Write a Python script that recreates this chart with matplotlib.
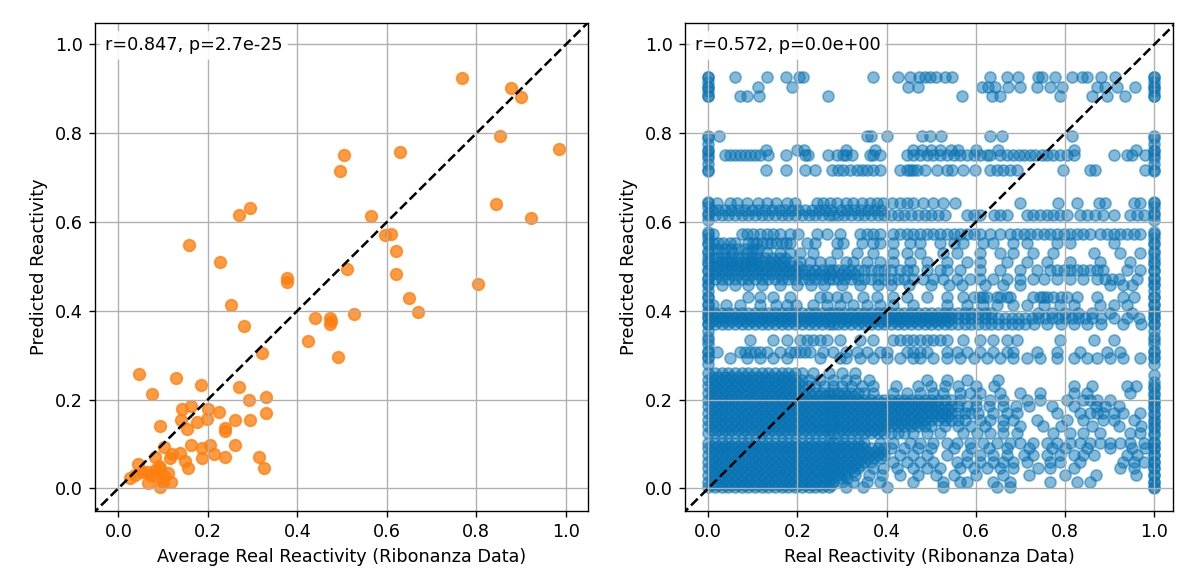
import matplotlib
matplotlib.use("Agg")
import matplotlib.pyplot as plt

plt.rcParams['font.size'] = 10.3

# ---------------- Left panel data (average real vs predicted) ----------------
left_x = [0.768, 0.878, 0.899, 0.852, 0.984, 0.505, 0.496, 0.629, 0.295, 0.269,
          0.844, 0.921, 0.565, 0.597, 0.610, 0.620, 0.620, 0.158, 0.227, 0.512,
          0.377, 0.377, 0.804, 0.649, 0.669, 0.252, 0.440, 0.474, 0.476, 0.473,
          0.527, 0.280, 0.424, 0.490, 0.321, 0.046, 0.130, 0.184, 0.075, 0.269,
          0.292, 0.330, 0.330, 0.142, 0.162, 0.200, 0.225, 0.140, 0.175, 0.198,
          0.260, 0.295, 0.093, 0.154, 0.238, 0.238, 0.162, 0.187, 0.205, 0.102,
          0.260, 0.137, 0.119, 0.213, 0.081, 0.116, 0.187, 0.238, 0.315, 0.148,
          0.043, 0.156, 0.326, 0.091, 0.065, 0.083, 0.094, 0.112, 0.026, 0.037,
          0.052, 0.074, 0.067, 0.093, 0.100, 0.117, 0.085, 0.103]
left_y = [0.924, 0.901, 0.881, 0.793, 0.764, 0.750, 0.715, 0.758, 0.632, 0.615,
          0.641, 0.610, 0.613, 0.570, 0.572, 0.535, 0.483, 0.549, 0.509, 0.495,
          0.475, 0.465, 0.460, 0.429, 0.398, 0.412, 0.383, 0.383, 0.378, 0.370,
          0.392, 0.366, 0.332, 0.295, 0.306, 0.257, 0.248, 0.232, 0.212, 0.229,
          0.199, 0.206, 0.169, 0.178, 0.185, 0.178, 0.171, 0.154, 0.149, 0.156,
          0.154, 0.154, 0.140, 0.134, 0.135, 0.129, 0.098, 0.090, 0.098, 0.094,
          0.098, 0.080, 0.077, 0.077, 0.071, 0.069, 0.069, 0.071, 0.071, 0.062,
          0.055, 0.045, 0.045, 0.051, 0.037, 0.041, 0.045, 0.034, 0.023, 0.030,
          0.037, 0.030, 0.011, 0.004, 0.015, 0.015, 0.027, 0.027]
left_text = "r=0.847, p=2.7e-25"

# ---------------- Right panel data (per-nucleotide real vs predicted) --------
# dense runs of real-reactivity values read from the solid blobs
run_a = [0.0, 0.015, 0.03, 0.045, 0.06, 0.075, 0.09, 0.105, 0.12, 0.135,
         0.15, 0.165, 0.18, 0.195, 0.21, 0.225, 0.24, 0.255, 0.27, 0.28]
run_b = [0.29, 0.305, 0.32, 0.335, 0.35, 0.365, 0.38, 0.395]
run_c = [0.41, 0.425, 0.44, 0.455, 0.47, 0.485, 0.5, 0.515, 0.53, 0.545]
run_d = [0.56, 0.575, 0.59, 0.605, 0.62, 0.635, 0.65, 0.665, 0.68, 0.695, 0.71]
# second, staggered set of values inside the same blobs
run_a2 = [0.008, 0.022, 0.038, 0.052, 0.068, 0.082, 0.098, 0.112, 0.128, 0.142,
          0.158, 0.172, 0.188, 0.202, 0.218, 0.232, 0.248, 0.262, 0.275]
run_b2 = [0.298, 0.312, 0.328, 0.342, 0.358, 0.372, 0.388]
run_c2 = [0.402, 0.418, 0.432, 0.448, 0.462, 0.478, 0.492, 0.508, 0.522, 0.538]

x_0926 = [0.0, 0.06, 0.132, 0.174, 0.204, 0.213, 0.37, 0.426, 0.453, 0.473, 0.486,
          0.497, 0.51, 0.531, 0.546, 0.632, 0.669, 0.695, 0.74, 0.748, 0.778,
          0.815, 0.838, 0.849, 0.88, 0.912, 1.0]
x_0905 = [0.0, 0.112, 0.187, 0.449, 0.471, 0.613, 0.628, 0.643, 0.673, 0.699,
          0.737, 0.767, 0.793, 0.871, 0.89, 0.916, 0.957, 1.0]
x_0884 = [0.0, 0.071, 0.086, 0.114, 0.269, 0.568, 0.636, 0.654, 0.789, 0.86,
          0.894, 0.935, 1.0]
x_0793 = [0.0, 0.025, 0.355, 0.366, 0.402, 0.479, 0.497, 0.523, 0.632, 0.658,
          0.815, 1.0]
x_0762 = [0.0, 0.13, 0.2, 0.215, 0.31, 0.375, 0.46, 0.48, 0.5, 0.52, 0.545,
          0.56, 0.6, 0.65, 0.82, 0.96, 1.0]
x_0751 = [0.0, 0.037, 0.049, 0.06, 0.071, 0.082, 0.093, 0.105, 0.116, 0.135,
          0.174, 0.217, 0.224, 0.269, 0.288, 0.303, 0.31, 0.322, 0.363, 0.37,
          0.385, 0.445, 0.46, 0.475, 0.49, 0.505, 0.52, 0.535, 0.55, 0.565, 0.58,
          0.595, 0.61, 0.625, 0.632, 0.654, 0.669, 0.684, 0.696, 0.707, 0.722,
          0.733, 0.748, 0.759, 0.774, 0.789, 0.804, 0.819, 0.909, 0.939, 0.95,
          0.98, 1.0]
x_0717 = [0.0, 0.129, 0.174, 0.217, 0.239, 0.277, 0.292, 0.303, 0.318, 0.333,
          0.344, 0.355, 0.37, 0.385, 0.43, 0.445, 0.452, 0.46, 0.468, 0.486,
          0.512, 0.535, 0.546, 0.572, 0.598, 0.632, 0.647, 0.662, 0.677, 0.692,
          0.795, 0.856, 0.868, 0.98, 1.0]
x_0642 = [0.0, 0.019, 0.049, 0.064, 0.086, 0.112, 0.131, 0.153, 0.176, 0.194,
          0.243, 0.258, 0.273, 0.288, 0.31, 0.325, 0.344, 0.363, 0.378, 0.393,
          0.411, 0.43, 0.445, 0.46, 0.482, 0.505, 0.527, 0.553, 0.699, 0.785,
          0.826, 0.875, 0.89, 0.954, 0.969, 1.0]
x_0615e = [0.58, 0.595, 0.61, 0.64, 0.654, 0.669, 0.714, 0.729, 0.744, 0.759,
           0.774, 0.789, 0.804, 0.834, 0.849, 0.868, 0.886, 0.909, 0.946, 0.961,
           0.976, 1.0]
x_0574 = [0.0, 0.011, 0.075, 0.086, 0.101, 0.116, 0.131, 0.146, 0.161, 0.183,
          0.202, 0.243, 0.266, 0.295, 0.34, 0.355, 0.37, 0.385, 0.415, 0.43,
          0.445, 0.46, 0.475, 0.49, 0.505, 0.52, 0.535, 0.55, 0.565, 0.58, 0.595,
          0.61, 0.632, 0.654, 0.677, 0.692, 0.707, 0.722, 0.737, 0.752, 0.767,
          0.782, 0.797, 0.812, 0.826, 0.841, 0.856, 0.879, 0.894, 0.909, 0.924,
          0.939, 0.954, 0.969, 1.0]
x_0552 = [0.0, 0.011, 0.022, 0.034, 0.049, 0.06, 0.09, 0.1, 0.108, 0.12, 0.131,
          0.14, 0.153, 0.165, 0.175, 0.183, 0.221, 0.239, 0.288, 0.303, 0.344,
          0.37, 0.385, 0.415, 0.453, 0.475, 0.52, 0.55, 0.572, 0.617, 0.639,
          0.684, 0.714, 0.782, 0.812, 0.909, 1.0]
x_0530 = [0.0, 0.034, 0.056, 0.086, 0.108, 0.131, 0.161, 0.183, 0.206, 0.236,
          0.288, 0.333, 0.37, 0.415, 0.445, 0.475, 0.527, 0.557, 0.61, 0.654,
          0.684, 0.729, 0.774, 0.864, 0.924, 0.969, 1.0]
x_0510 = [0.0, 0.019, 0.03, 0.041, 0.052, 0.064, 0.075, 0.086, 0.097, 0.108,
          0.123, 0.138, 0.153, 0.168, 0.183, 0.206, 0.228, 0.251, 0.273, 0.31,
          0.325, 0.355, 0.385, 0.415, 0.453, 0.49, 0.535, 0.58, 0.61, 0.669,
          0.714, 0.759, 0.812, 0.879, 0.946, 1.0]
x_0492e = [0.41, 0.43, 0.445, 0.46, 0.49, 0.52, 0.535, 0.565, 0.61, 0.654, 0.699,
           0.737, 0.767, 0.782, 0.797, 0.812, 0.826, 0.841, 0.856, 0.871, 0.886,
           0.939, 0.969, 1.0]
x_0470e = [0.41, 0.425, 0.44, 0.46, 0.482, 0.505, 0.527, 0.557, 0.587, 0.61,
           0.639, 0.669, 0.699, 0.729, 0.752, 0.782, 0.812, 0.841, 0.871, 0.89,
           0.905, 0.92, 0.961, 1.0]
x_0458 = [0.0, 0.03, 0.06, 0.09, 0.12, 0.16, 0.2, 0.23, 0.26, 0.3, 0.34, 0.38,
          0.41, 0.45, 0.5, 0.54, 0.57, 0.62, 0.66, 0.7, 0.9, 0.93, 0.95, 1.0]
x_0432 = [0.0, 0.09, 0.116, 0.146, 0.183, 0.251, 0.266, 0.288, 0.31, 0.348,
          0.378, 0.415, 0.445, 0.49, 0.535, 0.572, 0.595, 0.61, 0.617, 0.625,
          0.647, 0.655, 0.67, 0.677, 0.729, 0.744, 0.75, 0.76, 0.774, 0.79,
          0.804, 0.826, 0.871, 0.931, 0.954, 1.0]
x_0413 = [0.0, 0.011, 0.041, 0.071, 0.116, 0.153, 0.176, 0.198, 0.236, 0.266,
          0.295, 0.325, 0.355, 0.385, 0.415, 0.46, 0.535, 0.58, 0.617, 0.647,
          0.684, 0.714, 0.752, 0.789, 0.819, 0.879, 0.909, 0.939, 1.0]
x_0394e = [0.74, 0.77, 0.8, 0.83, 0.86, 0.9, 0.95, 1.0]
x_0383e = [0.725, 0.74, 0.755, 0.77, 0.785, 0.8, 0.815, 0.83, 0.845, 0.86, 0.88,
           0.91, 0.94, 0.965, 1.0]
x_0371e = [0.73, 0.76, 0.79, 0.82, 0.85, 0.88, 0.93, 0.97, 1.0]
x_0334 = [0.0, 0.093, 0.146, 0.176, 0.206, 0.221, 0.236, 0.251, 0.266, 0.295,
          0.34, 0.37, 0.415, 0.43, 0.445, 0.46, 0.475, 0.49, 0.505, 0.52, 0.535,
          0.572, 0.61, 0.639, 0.669, 0.692, 0.789, 0.864, 0.909, 1.0]
x_0308 = [0.0, 0.019, 0.071, 0.082, 0.093, 0.105, 0.116, 0.131, 0.161, 0.183,
          0.194, 0.206, 0.217, 0.228, 0.258, 0.28, 0.31, 0.333, 0.355, 0.385,
          0.4, 0.445, 0.46, 0.475, 0.49, 0.535, 0.557, 0.58, 0.61, 0.639, 0.669,
          0.684, 0.737, 0.782, 0.834, 0.894, 0.924, 1.0]
x_0293 = [0.0, 0.049, 0.086, 0.116, 0.146, 0.176, 0.251, 0.295, 0.31, 0.34,
          0.37, 0.4, 0.43, 0.46, 0.475, 0.505, 0.535, 0.565, 0.595, 0.625,
          0.654, 0.684, 0.714, 0.744, 0.782, 0.819, 0.849, 0.871, 0.901, 0.931,
          0.969, 1.0]
x_0260e = [0.21, 0.235, 0.27, 0.3, 0.33]
x_0245e = [0.21, 0.225, 0.25, 0.28, 0.31, 0.33, 0.36, 0.49, 0.535, 0.58, 0.65]
x_0230e = [0.225, 0.24, 0.26, 0.28, 0.3, 0.32, 0.345, 0.37, 0.42, 0.47, 0.5,
           0.53, 0.56, 0.6, 0.64, 0.82, 0.86, 0.94, 0.96, 1.0]
x_0215e = [0.37, 0.415, 0.445, 0.475, 0.505, 0.527, 0.565, 0.587, 0.61, 0.654,
           0.699, 0.744, 0.819, 0.849, 0.946, 1.0]
x_0200e = [0.565, 0.6, 0.632, 0.662, 0.714, 0.744, 0.804, 0.841, 0.856, 0.871,
           0.901, 1.0]
x_0185e = [0.56, 0.58, 0.6, 0.63, 0.66, 0.69, 0.72, 0.77, 0.82, 0.87, 0.89,
           0.92, 1.0]
x_0170e = [0.639, 0.669, 0.692, 0.782, 0.834, 0.856, 0.871, 0.886, 0.909, 0.931,
           0.969, 1.0]
x_0155e = [0.61, 0.632, 0.662, 0.684, 0.737, 0.804, 0.841, 0.886, 0.909, 0.954,
           1.0]
x_0140e = [0.5, 0.53, 0.56, 0.59, 0.62, 0.66, 0.7, 0.75, 0.79, 0.86, 0.92,
           0.97, 1.0]
x_0125e = [0.41, 0.425, 0.44, 0.46, 0.49, 0.52, 0.572, 0.602, 0.632, 0.662,
           0.692, 0.774, 0.812, 0.841, 0.879, 0.946, 0.969, 1.0]
x_0102e = [0.385, 0.415, 0.453, 0.475, 0.505, 0.535, 0.557, 0.587, 0.617, 0.647,
           0.677, 0.699, 0.729, 0.759, 0.782, 0.812, 0.834, 0.856, 0.879, 0.901,
           0.924, 0.946, 0.976, 1.0]
x_0090e = [0.41, 0.44, 0.47, 0.5, 0.55, 0.59, 0.63, 0.67, 0.72, 0.77, 0.8,
           0.85, 0.9, 0.95, 0.98, 1.0]
x_0075e = [0.43, 0.46, 0.49, 0.535, 0.58, 0.61, 0.639, 0.669, 0.707, 0.729,
           0.759, 0.789, 0.819, 0.841, 0.864, 0.939, 0.961, 1.0]
x_0060e = [0.415, 0.445, 0.475, 0.505, 0.557, 0.58, 0.61, 0.639, 0.662, 0.684,
           0.714, 0.767, 0.789, 0.834, 0.931, 0.954, 0.976, 1.0]
x_0045e = [0.37, 0.393, 0.423, 0.46, 0.49, 0.52, 0.565, 0.595, 0.625, 0.654,
           0.684, 0.74, 0.767, 0.819, 0.924, 0.954, 1.0]
x_0030e = [0.33, 0.36, 0.39, 0.43, 0.47, 0.51, 0.55, 0.6, 0.66, 0.72, 0.8,
           0.87, 0.96, 1.0]
x_0015e = [0.3, 0.325, 0.355, 0.385, 0.46, 0.527, 0.565, 0.58, 0.639, 0.677,
           0.767, 0.826, 0.856, 1.0]
x_0002e = [0.31, 0.348, 0.4, 0.527, 0.647, 0.677, 1.0]

# predicted values stacked at real reactivity 0 and 1 (clipped values)
col_y_low = [0.0, 0.015, 0.03, 0.045, 0.06, 0.075, 0.09, 0.105, 0.12, 0.135,
             0.15, 0.165, 0.18, 0.195, 0.21, 0.225, 0.24, 0.255]
col_y_high = [0.28, 0.295, 0.31, 0.325, 0.34, 0.355, 0.37, 0.385, 0.4, 0.415,
              0.43, 0.445, 0.46, 0.475, 0.49, 0.505, 0.52, 0.535, 0.55, 0.565,
              0.578, 0.605, 0.62, 0.635, 0.645, 0.715, 0.73, 0.745, 0.76, 0.775,
              0.79, 0.884, 0.895, 0.905, 0.915, 0.926]
right_text = "r=0.572, p=0.0e+00"

rows = [
    (0.926, x_0926), (0.905, x_0905), (0.884, x_0884), (0.793, x_0793),
    (0.762, x_0762), (0.751, x_0751), (0.717, x_0717), (0.642, x_0642),
    (0.615, run_a + run_b + run_c[:9] + x_0615e), (0.628, run_a2 + run_b2),
    (0.574, x_0574), (0.552, x_0552), (0.540, run_a2[:8]), (0.530, x_0530),
    (0.520, run_a2[:12]), (0.510, x_0510), (0.502, run_a2[:14]),
    (0.492, run_a + run_b + x_0492e), (0.482, run_a2 + run_b2[:3]),
    (0.472, run_a + run_b + x_0470e), (0.458, x_0458), (0.432, x_0432),
    (0.413, x_0413),
    (0.394, run_a + run_b + run_c + run_d[:6] + x_0394e),
    (0.389, run_a2 + run_b2 + run_c2),
    (0.383, run_a + run_b + run_c + run_d + x_0383e),
    (0.377, run_a2 + run_b2 + run_c2),
    (0.371, run_a + run_b + run_c + run_d + x_0371e),
    (0.334, x_0334), (0.308, x_0308), (0.293, x_0293),
    (0.260, run_a[:14] + x_0260e), (0.252, run_a2[:13]),
    (0.245, run_a[:14] + x_0245e), (0.238, run_a2[:14]),
    (0.230, run_a[:15] + x_0230e), (0.222, run_a2[:14]),
    (0.215, run_a + run_b[:5] + x_0215e), (0.208, run_a2 + run_b2[:3]),
    (0.200, run_a + run_b + run_c + x_0200e),
    (0.193, run_a2 + run_b2 + run_c2[:8]),
    (0.185, run_a + run_b + run_c + x_0185e),
    (0.178, run_a2 + run_b2 + run_c2),
    (0.170, run_a + run_b + run_c + run_d[:4] + x_0170e),
    (0.162, run_a2 + run_b2 + run_c2),
    (0.155, run_a + run_b + run_c + run_d[:2] + x_0155e),
    (0.147, run_a2 + run_b2 + run_c2[:6]),
    (0.140, run_a + run_b + run_c[:6] + x_0140e),
    (0.132, run_a2 + run_b2),
    (0.125, run_a + run_b + x_0125e),
    (0.102, run_a + run_b[:5] + x_0102e), (0.096, run_a2 + run_b2[:4]),
    (0.090, run_a + run_b + x_0090e), (0.083, run_a2 + run_b2),
    (0.075, run_a + run_b + x_0075e), (0.068, run_a2 + run_b2),
    (0.060, run_a + run_b[:6] + x_0060e), (0.053, run_a2 + run_b2[:4]),
    (0.045, run_a + run_b[:4] + x_0045e), (0.038, run_a2 + run_b2[:3]),
    (0.030, run_a + run_b[:2] + x_0030e), (0.023, run_a2 + run_b2[:2]),
    (0.015, run_a + x_0015e), (0.008, run_a2),
    (0.002, run_a[:19] + x_0002e),
]

right_x, right_y = [], []
for yv, xs in rows:
    right_x += xs
    right_y += [yv] * len(xs)
for yv in col_y_high:
    right_x += [0.0, 1.0]
    right_y += [yv, yv]
for yv in col_y_low:
    right_x.append(1.0)
    right_y.append(yv)

ticks = [0.0, 0.2, 0.4, 0.6, 0.8, 1.0]

# ---------------- Figure ----------------
DPI = 123
fig = plt.figure(figsize=(1200 / DPI, 583 / DPI), dpi=DPI)
ax1 = fig.add_axes([0.0792, 0.1235, 0.411, 0.8375])
ax2 = fig.add_axes([0.5708, 0.1235, 0.4067, 0.8375])

ax1.scatter(left_x, left_y, s=46, color='#ff7f0e', alpha=0.78)
ax2.scatter(right_x, right_y, s=42, color='#0a74b4', alpha=0.5)

for ax, lims, txt, xlabel in [
        (ax1, (-0.052, 1.05), left_text, "Average Real Reactivity (Ribonanza Data)"),
        (ax2, (-0.052, 1.042), right_text, "Real Reactivity (Ribonanza Data)")]:
    ax.plot([-0.06, 1.06], [-0.06, 1.06], 'k--', lw=1.5, zorder=3)
    ax.set_xlim(*lims)
    ax.set_ylim(-0.051, 1.049)
    ax.set_xticks(ticks)
    ax.set_yticks(ticks)
    ax.grid(True)
    ax.set_xlabel(xlabel)
    ax.set_ylabel("Predicted Reactivity")
    ax.text(0.02, 0.972, txt, transform=ax.transAxes, va='top', ha='left',
            zorder=5,
            bbox=dict(boxstyle='round,pad=0.3', facecolor='white',
                      edgecolor='none', alpha=0.9))

fig.savefig("out.png", dpi=DPI)
